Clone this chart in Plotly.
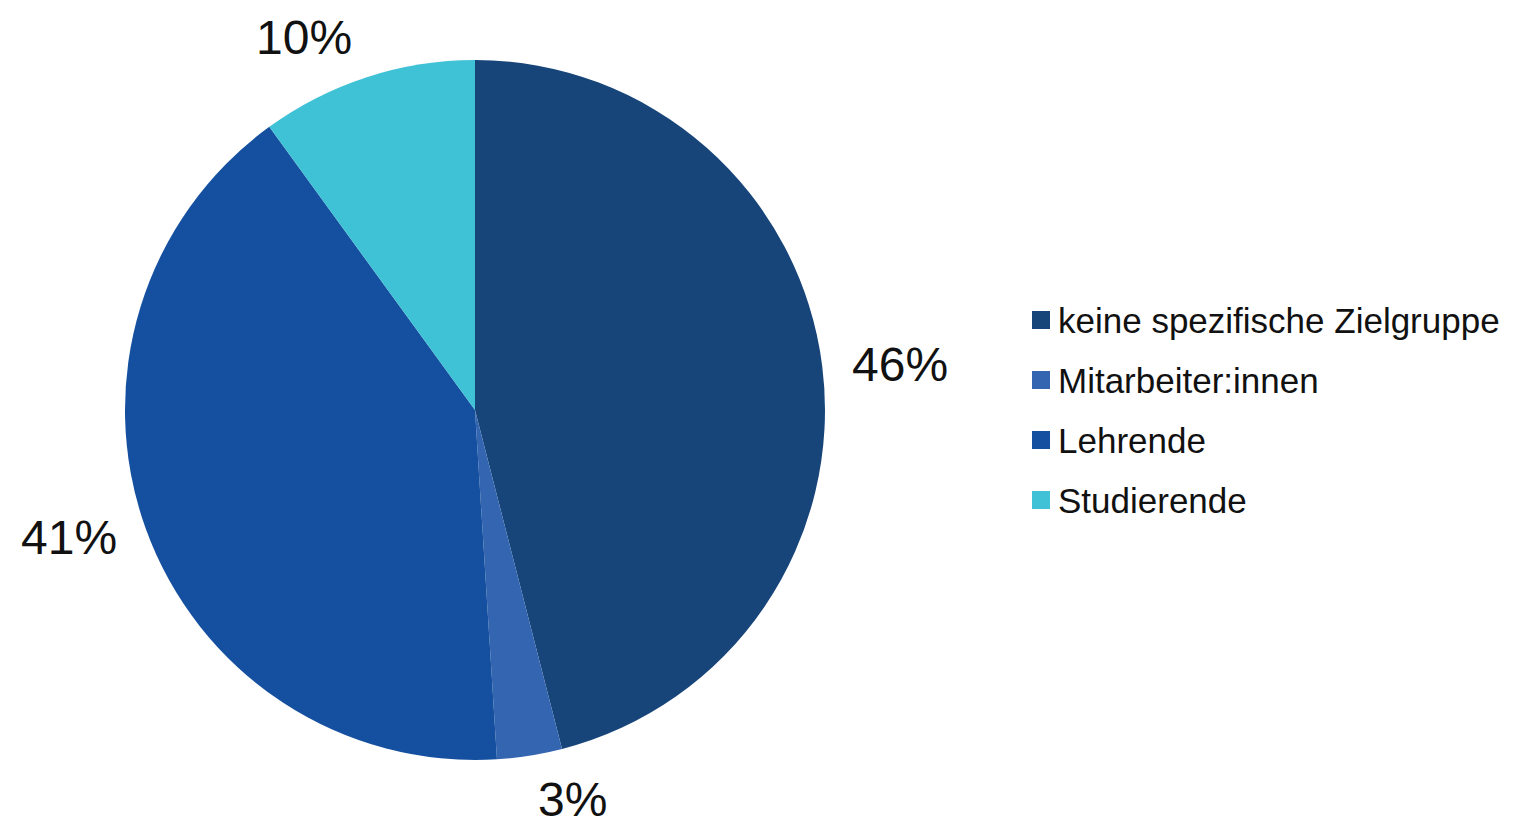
import math
import plotly.graph_objects as go

# Target group shares (percent)
categories = ["keine spezifische Zielgruppe", "Mitarbeiter:innen", "Lehrende", "Studierende"]
shares = [46, 3, 41, 10]
colors = ["#17457A", "#3465B0", "#1550A0", "#3FC1D6"]

W, H = 1520, 825
FONT = "Liberation Sans, Arial, sans-serif"

# Pie placement in pixels
CX, CY, R = 475, 410, 350
LABEL_SIZE = 48
LABEL_GAP = 16

fig = go.Figure(
    go.Pie(
        labels=categories,
        values=shares,
        sort=False,
        direction="clockwise",
        rotation=0,
        marker=dict(colors=colors, line=dict(width=0)),
        textinfo="none",
        domain=dict(x=[(CX - R) / W, (CX + R) / W],
                    y=[1 - (CY + R) / H, 1 - (CY - R) / H]),
        showlegend=False,
        hoverinfo="label+percent",
    )
)

# Percentage labels outside the slices, placed along each slice's mid angle
annotations = []
total = sum(shares)
cum = 0.0
half_h = 14  # half of the label's visual height
for v in shares:
    mid = (cum + v / 2) / total * 2 * math.pi
    cum += v
    ux, uy = math.sin(mid), math.cos(mid)          # uy positive = up
    text = f"{v}%"
    half_w = LABEL_SIZE * (0.556 * (len(text) - 1) + 0.889) / 2
    r = R + LABEL_GAP
    px = CX + r * ux + math.copysign(half_w * min(1.0, 0.6 + abs(ux)) + half_h, ux)
    py = CY - r * uy - math.copysign(2 * half_h, uy) * uy * uy
    annotations.append(dict(
        text=text, xref="paper", yref="paper",
        x=px / W, y=1 - py / H, xanchor="center", yanchor="middle",
        height=46, valign="middle",
        showarrow=False,
        font=dict(family=FONT, size=LABEL_SIZE, color="#111111"),
    ))

# Legend drawn as colour squares with labels
shapes = []
legend_x, legend_top, step, box = 1032, 320, 60, 18
for i, (name, col) in enumerate(zip(categories, colors)):
    yc = legend_top + i * step
    shapes.append(dict(
        type="rect", xref="paper", yref="paper",
        x0=legend_x / W, x1=(legend_x + box) / W,
        y0=1 - (yc + box / 2) / H, y1=1 - (yc - box / 2) / H,
        fillcolor=col, line=dict(width=0),
    ))
    annotations.append(dict(
        text=name, xref="paper", yref="paper",
        x=(legend_x + box + 6) / W, y=1 - yc / H,
        xanchor="left", yanchor="middle", showarrow=False,
        font=dict(family=FONT, size=35, color="#111111"),
    ))

fig.update_layout(
    width=W, height=H,
    margin=dict(l=0, r=0, t=0, b=0),
    paper_bgcolor="white", plot_bgcolor="white",
    shapes=shapes, annotations=annotations,
)

fig.write_html("out.html")
